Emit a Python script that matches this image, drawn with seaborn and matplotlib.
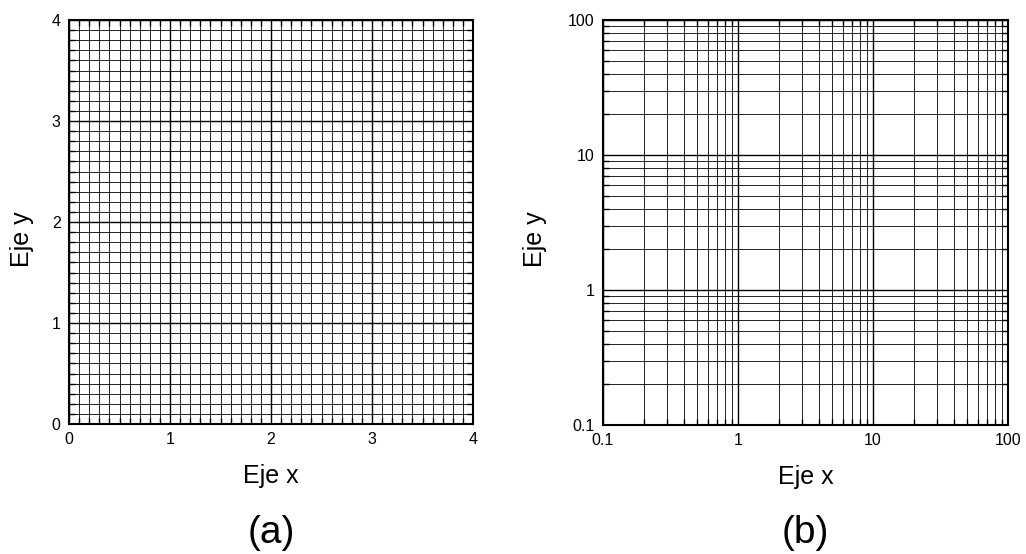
import numpy as np
import seaborn as sns
import matplotlib.pyplot as plt
from matplotlib import ticker

# axis ranges and tick positions
lin_limits = [0, 4]
lin_major = [0, 1, 2, 3, 4]
lin_minor_step = 0.1
log_limits = [0.1, 100]
log_major = [0.1, 1, 10, 100]
log_labels = ['0.1', '1', '10', '100']
x_label = 'Eje x'
y_label = 'Eje y'
captions = ['(a)', '(b)']

sns.set_style('ticks')
plt.rcParams['font.family'] = ['Liberation Sans', 'DejaVu Sans']
plt.rcParams['text.color'] = 'black'
plt.rcParams['axes.labelcolor'] = 'black'

fig = plt.figure(figsize=(10.26, 5.54), dpi=100)
W, H = 1026, 554
ax1 = fig.add_axes([69 / W, (H - 424) / H, 404 / W, 404 / H])
ax2 = fig.add_axes([603 / W, (H - 425) / H, 405 / W, 405 / H])


def style(ax, ylab_x):
    ax.tick_params(which='both', direction='in', top=True, right=True,
                   labelsize=11.5, colors='black', pad=6)
    ax.tick_params(which='major', length=0)
    ax.tick_params(which='minor', length=4, width=1.0)
    ax.grid(which='major', color='black', lw=1.0)
    ax.grid(which='minor', color='black', lw=0.6)
    ax.set_axisbelow(False)
    for s in ax.spines.values():
        s.set_linewidth(1.5)
        s.set_color('black')
    ax.set_xlabel(x_label, fontsize=18, va='center')
    ax.set_ylabel(y_label, fontsize=18, va='center')
    ax.xaxis.set_label_coords(0.5, -0.128)
    ax.yaxis.set_label_coords(ylab_x, 0.458)


# (a) linear grid
ax1.set_xlim(lin_limits)
ax1.set_ylim(lin_limits)
ax1.set_xticks(lin_major)
ax1.set_yticks(lin_major)
ax1.xaxis.set_minor_locator(ticker.MultipleLocator(lin_minor_step))
ax1.yaxis.set_minor_locator(ticker.MultipleLocator(lin_minor_step))
style(ax1, -0.116)

# (b) log-log grid
ax2.set_xscale('log')
ax2.set_yscale('log')
ax2.set_xlim(log_limits)
ax2.set_ylim(log_limits)
ax2.set_xticks(log_major, log_labels)
ax2.set_yticks(log_major, log_labels)
ax2.xaxis.set_minor_locator(ticker.LogLocator(base=10, subs=np.arange(2, 10)))
ax2.yaxis.set_minor_locator(ticker.LogLocator(base=10, subs=np.arange(2, 10)))
ax2.xaxis.set_minor_formatter(ticker.NullFormatter())
ax2.yaxis.set_minor_formatter(ticker.NullFormatter())
style(ax2, -0.168)

fig.text(271 / W, 1 - 533 / H, captions[0], fontsize=28, ha='center', va='center')
fig.text(805 / W, 1 - 533 / H, captions[1], fontsize=28, ha='center', va='center')

fig.savefig('out.png', dpi=100)
